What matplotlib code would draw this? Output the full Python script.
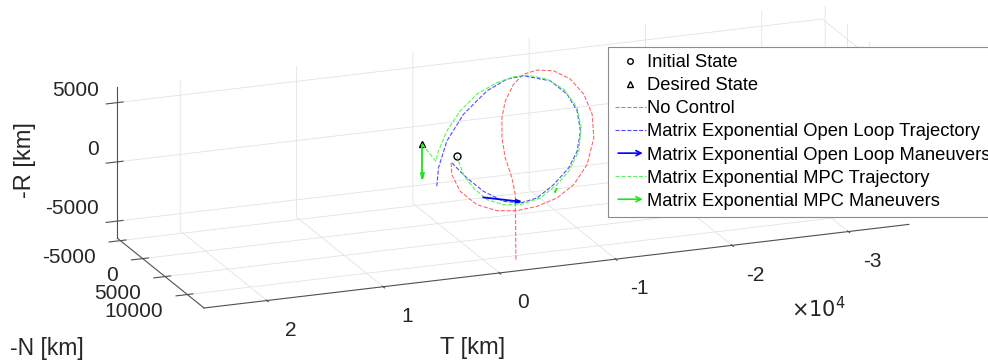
import matplotlib
matplotlib.use("Agg")
import matplotlib.pyplot as plt
from matplotlib.legend_handler import HandlerBase
from matplotlib.patches import FancyArrowPatch
from matplotlib.lines import Line2D

plt.rcParams["font.family"] = ["Liberation Sans", "DejaVu Sans"]
plt.rcParams["grid.color"] = "#e3e3e3"
plt.rcParams["grid.linewidth"] = 0.6

# relative states in the T-N-R frame [km]
init_state = (-1612, 0, -949)
desired_state = (1353, 0, 386)

no_ctrl_t = [-1121, -1178, -1897, -3333, -5057, -6782, -8506, -10230, -11667, -12816,
             -13391, -13247, -12529, -11379, -9943, -8506, -7356, -6494, -5776, -5489,
             -5489, -5776, -6351, -6638, -1870]
no_ctrl_n = [0, 0, 0, 0, 0, 0, 0, 0, 0, 0,
             0, 0, 0, 0, 0, 0, 0, 0, 0, 0,
             0, 0, 0, 0, 12560]
no_ctrl_r = [-1461, -2450, -3949, -5245, -5953, -6152, -5987, -5483, -4517, -2954,
             -767, 1233, 3012, 4415, 5286, 5513, 5306, 4560, 3228, 1846,
             151, -1577, -3339, -4780, -5980]

ol_t = [112, -29, -750, -2181, -4198, -5922, -7356, -9655, -11095, -11957, -12241,
        -11957, -11233, -9943, -8506, -7069, -5629, -3905, -2474, -1319, -1121]
ol_n = [0] * len(ol_t)
ol_r = [-3292, -1758, 421, 2518, 4258, 5050, 5163, 4472, 3178, 1663, -65,
        -1727, -3058, -4315, -5284, -5541, -5230, -4182, -2889, -1619, -1317]

mpc_t = [1353, 198, -29, -750, -1897, -3333, -5057, -6494, -7647, -9371, -10802, -11957,
         -12302, -12095, -11233, -10230, -8793, -7069, -5629, -4198, -3043, -2181,
         -1750, -1612]
mpc_n = [0] * len(mpc_t)
mpc_r = [386, -1163, -342, 1269, 2831, 4079, 4862, 5178, 5188, 4649, 3636, 1942,
         208, -1743, -3338, -4349, -5318, -5676, -5509, -4919, -3803, -2567,
         -1390, -949]

# impulsive maneuvers: base point and delta-v direction (scaled for display)
ol_burn_pos = (-3819, 0, -4681)
ol_burn_vec = (-3250, 0, -741)
mpc_burn_t = [1353, -10230]
mpc_burn_n = [0, 0]
mpc_burn_r = [386, -4637]
mpc_burn_dt = [0, 200]
mpc_burn_dn = [0, 0]
mpc_burn_dr = [-2900, -350]

t_lim = (-35200, 25400)
n_lim = (-5660, 13740)
r_lim = (-6450, 6290)
t_ticks = [-30000, -20000, -10000, 0, 10000, 20000]
n_ticks = [-5000, 0, 5000, 10000]
r_ticks = [-5000, 0, 5000]

red = (1.0, 0.4, 0.4)
blue = (0.3, 0.3, 1.0)
green = (0.35, 0.95, 0.35)
arrow_blue = (0.0, 0.0, 1.0)
arrow_green = (0.1, 0.9, 0.1)
text_col = "#262626"


class ArrowHandler(HandlerBase):
    def create_artists(self, legend, orig_handle, xdescent, ydescent,
                       width, height, fontsize, trans):
        y = height / 2 - ydescent
        arr = FancyArrowPatch((-xdescent, y), (width - xdescent, y),
                              arrowstyle="->", mutation_scale=9,
                              color=orig_handle.get_color(), lw=1.2,
                              transform=trans)
        return [arr]


fig = plt.figure(figsize=(9.88, 3.6), dpi=100)
ax = fig.add_axes([0.0516, -0.7167, 0.9109, 2.5], projection="3d", proj_type="ortho")
ax.set_facecolor("none")

ax.plot(*[[v] for v in init_state], "o", mfc="none", mec="k", ms=5, mew=1.0)
ax.plot(*[[v] for v in desired_state], "^", mfc="none", mec="k", ms=5, mew=1.0)
ax.plot(no_ctrl_t, no_ctrl_n, no_ctrl_r, "--", color=red, lw=0.8)
ax.plot(ol_t, ol_n, ol_r, "--", color=blue, lw=0.8)
ax.quiver(*ol_burn_pos, *ol_burn_vec, color=arrow_blue, lw=1.3, arrow_length_ratio=0.15)
ax.plot(mpc_t, mpc_n, mpc_r, "--", color=green, lw=0.8)
ax.quiver(mpc_burn_t, mpc_burn_n, mpc_burn_r, mpc_burn_dt, mpc_burn_dn, mpc_burn_dr,
          color=arrow_green, lw=1.3, arrow_length_ratio=0.2)

ax.set_xlim(*t_lim)
ax.set_ylim(*n_lim)
ax.set_zlim(*r_lim)
ax.set_box_aspect((t_lim[1] - t_lim[0], n_lim[1] - n_lim[0], r_lim[1] - r_lim[0]), zoom=0.872)
ax.view_init(elev=18, azim=69)

# ticks drawn by the axes, labels placed next to them by hand
ax.set_xticks(t_ticks)
ax.set_xticklabels([""] * len(t_ticks))
ax.set_yticks(n_ticks)
ax.set_yticklabels([""] * len(n_ticks))
ax.set_zticks(r_ticks)
ax.set_zticklabels([""] * len(r_ticks))
ax.tick_params(colors="#505050")

for t in t_ticks:
    ax.text(t, n_lim[1] + 5300, r_lim[0] - 900, f"{t / 1e4:g}", ha="center", va="center",
            fontsize=15, color=text_col)
for n in n_ticks:
    ax.text(t_lim[1] + 2100, n, r_lim[0] - 1200, f"{n:g}", ha="right", va="center",
            fontsize=15, color=text_col)
for r in r_ticks:
    ax.text(t_lim[1], n_lim[0] - 4200, r - 250, f"{r:g}", ha="right", va="center",
            fontsize=15, color=text_col)

for axis in (ax.xaxis, ax.yaxis, ax.zaxis):
    axis.set_pane_color((1, 1, 1, 0))
    axis.pane.set_edgecolor("#e3e3e3")
    axis.line.set_color("#505050")
    axis.line.set_linewidth(0.8)

fig.text(0.0253, 0.556, "-R [km]", rotation=90, ha="center", va="center", fontsize=17, color=text_col)
fig.text(0.0476, 0.033, "-N [km]", ha="center", va="center", fontsize=16.5, color=text_col)
fig.text(0.478, 0.033, "T [km]", ha="center", va="center", fontsize=17, color=text_col)
fig.text(0.828, 0.144, r"$\times10^{4}$", ha="center", va="center", fontsize=15, color=text_col)

handles = [
    Line2D([], [], ls="none", marker="o", mfc="none", mec="k", ms=4),
    Line2D([], [], ls="none", marker="^", mfc="none", mec="k", ms=4),
    Line2D([], [], ls="--", color=red, lw=0.8),
    Line2D([], [], ls="--", color=blue, lw=0.8),
    Line2D([], [], color=arrow_blue),
    Line2D([], [], ls="--", color=green, lw=0.8),
    Line2D([], [], color=arrow_green),
]
labels = ["Initial State", "Desired State", "No Control",
          "Matrix Exponential Open Loop Trajectory",
          "Matrix Exponential Open Loop Maneuvers",
          "Matrix Exponential MPC Trajectory",
          "Matrix Exponential MPC Maneuvers"]
leg = fig.legend(handles, labels, loc="upper left", bbox_to_anchor=(0.6154, 0.8694),
                 borderaxespad=0, fontsize=13.2, frameon=True, fancybox=False,
                 edgecolor="#8c8c8c", framealpha=1, handlelength=1.65, handletextpad=0.05,
                 labelspacing=0.33, borderpad=0.4,
                 handler_map={handles[4]: ArrowHandler(), handles[6]: ArrowHandler()})
leg.get_frame().set_linewidth(0.8)

fig.savefig("out.png", dpi=100)
